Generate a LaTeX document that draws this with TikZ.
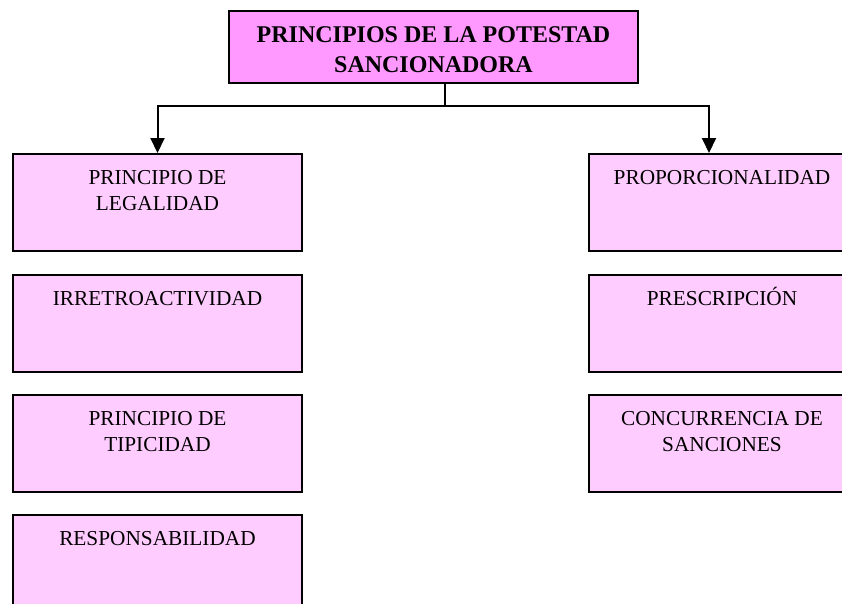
\documentclass[tikz,border=0pt]{standalone}
\usepackage{fontspec}
\setmainfont{Liberation Serif}
\usetikzlibrary{arrows.meta}
\definecolor{titlefill}{HTML}{FF99FF}
\definecolor{boxfill}{HTML}{FFCCFF}
\begin{document}
\begin{tikzpicture}[x=1pt,y=-1pt,
  box/.style={draw=black, line width=2pt, fill=boxfill, inner sep=0pt, anchor=north west, minimum height=97pt},
  leftbox/.style={box, minimum width=289pt},
  rightbox/.style={box, minimum width=266pt},
  titlebox/.style={draw=black, line width=2pt, fill=titlefill, inner sep=0pt, anchor=north west, minimum width=409pt, minimum height=72pt},
  boxtext/.style={anchor=north, inner sep=0pt, align=center, text height=14.5pt, font=\fontsize{21.3}{26}\selectfont},
  boxtexttwo/.style={boxtext, text height=40.5pt},
  titletext/.style={anchor=north, inner sep=0pt, align=center, text height=46pt, font=\fontsize{24}{30}\selectfont\bfseries},
  conn/.style={line width=2pt},
  arrowc/.style={conn, -{Triangle[width=14pt,length=15pt]}}]
\useasboundingbox (0,0) rectangle (842,603);
\clip (0,0) rectangle (842,603);
% title
\node[titlebox] (title) at (228,10) {};
\node[titletext] (titlet) at ([yshift=-16pt]title.north) {PRINCIPIOS DE LA POTESTAD\\SANCIONADORA};
% left column
\node[leftbox] (l1) at (12,153) {};
\node[leftbox] (l2) at (12,274) {};
\node[leftbox] (l3) at (12,394) {};
\node[leftbox] (l4) at (12,514) {};
\node[boxtexttwo] (l1t) at ([yshift=-16.5pt]l1.north) {PRINCIPIO DE\\LEGALIDAD};
\node[boxtext] (l2t) at ([yshift=-16.5pt]l2.north) {IRRETROACTIVIDAD};
\node[boxtexttwo] (l3t) at ([yshift=-16.5pt]l3.north) {PRINCIPIO DE\\TIPICIDAD};
\node[boxtext] (l4t) at ([yshift=-16.5pt]l4.north) {RESPONSABILIDAD};
% right column
\node[rightbox] (r1) at (588,153) {};
\node[rightbox] (r2) at (588,274) {};
\node[rightbox] (r3) at (588,394) {};
\node[boxtext] (r1t) at ([yshift=-16.5pt]r1.north) {PROPORCIONALIDAD};
\node[boxtext] (r2t) at ([yshift=-16.5pt]r2.north) {PRESCRIPCIÓN};
\node[boxtexttwo] (r3t) at ([yshift=-16.5pt]r3.north) {CONCURRENCIA DE\\SANCIONES};
% connectors
\coordinate (j) at (445,106);
\coordinate (ra) at (709,153);
\draw[conn] (title.south -| j) -- (j);
\draw[arrowc] (j) -| (l1.north);
\draw[arrowc] (j) -| (ra);
\end{tikzpicture}
\end{document}
